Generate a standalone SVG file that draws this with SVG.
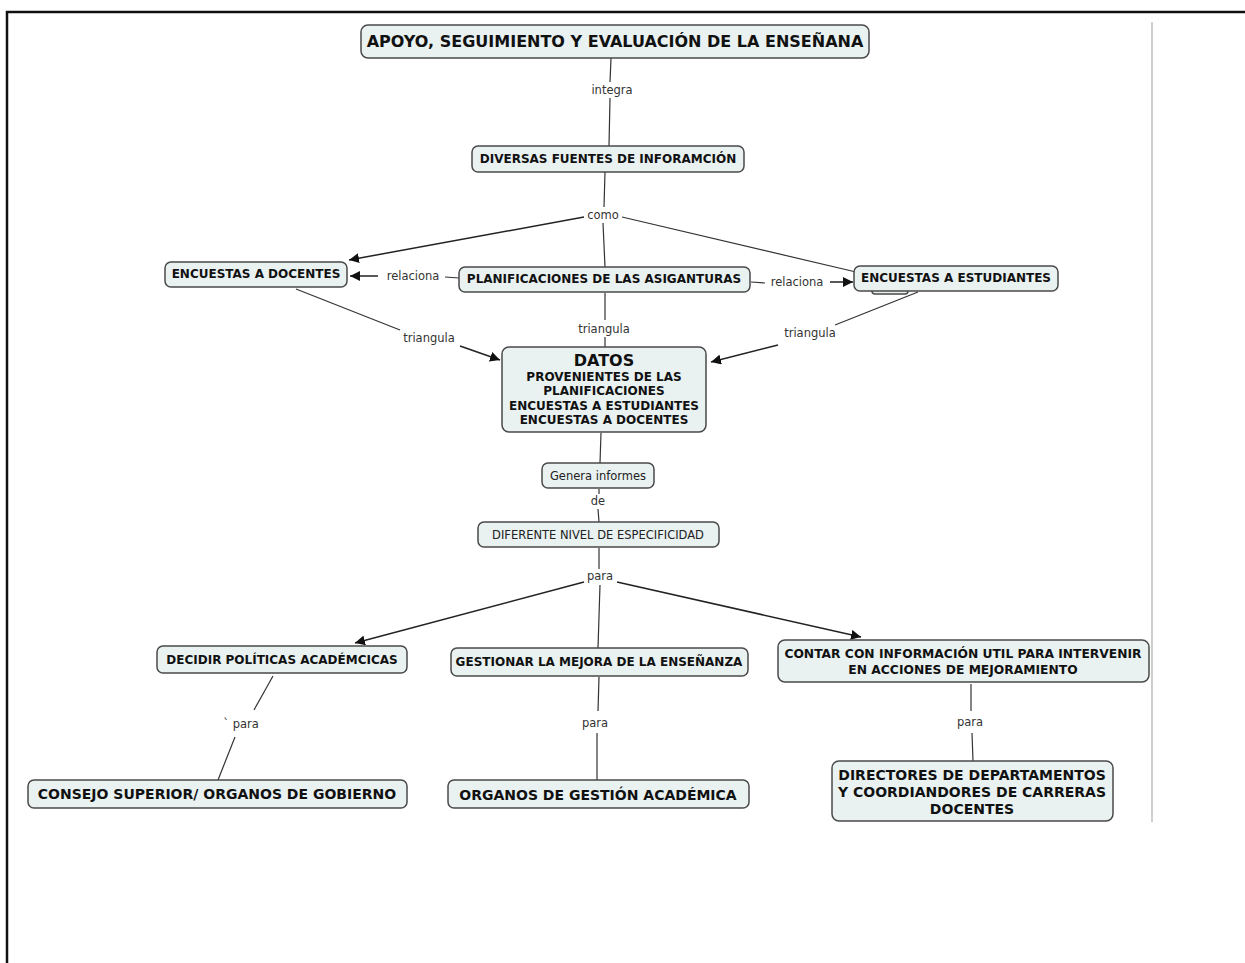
<svg xmlns="http://www.w3.org/2000/svg" width="1245" height="963" viewBox="0 0 1245 963">
<defs>
<marker id="ah" viewBox="0 0 10 10" refX="10" refY="5" markerWidth="10" markerHeight="10" markerUnits="userSpaceOnUse" orient="auto">
<path d="M0,0 L10,5 L0,10 z" fill="#111"/>
</marker>
<style>
.n{fill:#e9f1f1;stroke:#4a4a4a;stroke-width:1.5}
.b{font-family:"DejaVu Sans","Liberation Sans",sans-serif;font-weight:bold;fill:#111;text-anchor:middle}
.r{font-family:"DejaVu Sans","Liberation Sans",sans-serif;fill:#222;text-anchor:middle}
.l{font-family:"DejaVu Sans","Liberation Sans",sans-serif;font-size:11.5px;fill:#333;text-anchor:middle}
.c{stroke:#333;stroke-width:1.2;fill:none}
.a{stroke:#222;stroke-width:1.5;fill:none;marker-end:url(#ah)}
</style>
</defs>
<rect width="1245" height="963" fill="#fff"/>
<path d="M7,963 V12 H1245" fill="none" stroke="#111" stroke-width="2.5"/>
<line x1="1152" y1="22" x2="1152" y2="822" stroke="#a8b0a8" stroke-width="1.2"/>

<g id="connectors">
<line class="c" x1="611" y1="58" x2="610" y2="82"/>
<line class="c" x1="610" y1="98" x2="609" y2="146"/>
<text class="l" x="612" y="94">integra</text>

<line class="c" x1="605" y1="172" x2="604" y2="207"/>
<text class="l" x="603" y="219">como</text>
<line class="a" x1="584" y1="217" x2="349" y2="260"/>
<line class="c" x1="622" y1="217" x2="856" y2="272"/>
<line class="c" x1="603" y1="223" x2="605" y2="267"/>

<line class="a" x1="378" y1="276" x2="350" y2="276"/>
<text class="l" x="413" y="280">relaciona</text>
<line class="c" x1="445" y1="277" x2="459" y2="278"/>

<line class="c" x1="751" y1="282" x2="765" y2="283"/>
<text class="l" x="797" y="286">relaciona</text>
<line class="a" x1="830" y1="282" x2="853" y2="282"/>

<line class="c" x1="296" y1="289" x2="400" y2="330"/>
<text class="l" x="429" y="342">triangula</text>
<line class="a" x1="460" y1="346" x2="500" y2="360"/>

<line class="c" x1="605" y1="293" x2="605" y2="320"/>
<text class="l" x="604" y="333">triangula</text>
<line class="c" x1="605" y1="337" x2="605" y2="347"/>

<line class="c" x1="918" y1="292" x2="835" y2="325"/>
<text class="l" x="810" y="337">triangula</text>
<line class="a" x1="778" y1="345" x2="711" y2="362"/>

<line class="c" x1="601" y1="433" x2="600" y2="463"/>
<line class="c" x1="599" y1="489" x2="599" y2="494"/>
<text class="l" x="598" y="505">de</text>
<line class="c" x1="598" y1="509" x2="599" y2="522"/>

<line class="c" x1="599" y1="548" x2="599" y2="569"/>
<text class="l" x="600" y="580">para</text>
<line class="a" x1="584" y1="582" x2="355" y2="643"/>
<line class="a" x1="617" y1="582" x2="861" y2="637"/>
<line class="c" x1="600" y1="585" x2="598" y2="648"/>

<line class="c" x1="273" y1="676" x2="254" y2="710"/>
<text class="l" x="241" y="728">` para</text>
<line class="c" x1="235" y1="737" x2="218" y2="780"/>

<line class="c" x1="599" y1="677" x2="598" y2="711"/>
<text class="l" x="595" y="727">para</text>
<line class="c" x1="597" y1="733" x2="597" y2="780"/>

<line class="c" x1="971" y1="684" x2="971" y2="711"/>
<text class="l" x="970" y="726">para</text>
<line class="c" x1="972" y1="733" x2="973" y2="761"/>
</g>

<g id="n-apoyo">
<rect class="n" x="361" y="25" width="508" height="33" rx="7"/>
<text class="b" x="615" y="47" font-size="16">APOYO, SEGUIMIENTO Y EVALUACIÓN DE LA ENSEÑANA</text>
</g>
<g id="n-diversas">
<rect class="n" x="472" y="146" width="272" height="26" rx="6"/>
<text class="b" x="608" y="163" font-size="12">DIVERSAS FUENTES DE INFORAMCIÓN</text>
</g>
<g id="n-docentes">
<rect class="n" x="165" y="262" width="182" height="25" rx="6"/>
<text class="b" x="256" y="278" font-size="12">ENCUESTAS A DOCENTES</text>
</g>
<g id="n-planif">
<rect class="n" x="459" y="267" width="291" height="25" rx="6"/>
<text class="b" x="604" y="283" font-size="12">PLANIFICACIONES DE LAS ASIGANTURAS</text>
</g>
<g id="n-estudiantes">
<rect class="n" x="872" y="284" width="36" height="10" rx="3"/>
<rect class="n" x="854" y="266" width="204" height="25" rx="6"/>
<text class="b" x="956" y="282" font-size="12">ENCUESTAS A ESTUDIANTES</text>
</g>
<g id="n-datos">
<rect class="n" x="502" y="347" width="204" height="85" rx="7"/>
<text class="b" x="604" y="366" font-size="16">DATOS</text>
<text class="b" x="604" y="381" font-size="12">PROVENIENTES DE LAS</text>
<text class="b" x="604" y="395" font-size="12">PLANIFICACIONES</text>
<text class="b" x="604" y="410" font-size="12">ENCUESTAS A ESTUDIANTES</text>
<text class="b" x="604" y="424" font-size="12">ENCUESTAS A DOCENTES</text>
</g>
<g id="n-genera">
<rect class="n" x="542" y="463" width="112" height="25" rx="6"/>
<text class="r" x="598" y="480" font-size="11.5">Genera informes</text>
</g>
<g id="n-diferente">
<rect class="n" x="478" y="522" width="241" height="25" rx="6"/>
<text class="r" x="598" y="539" font-size="11.5">DIFERENTE NIVEL DE ESPECIFICIDAD</text>
</g>
<g id="n-decidir">
<rect class="n" x="157" y="646" width="250" height="27" rx="6"/>
<text class="b" x="282" y="664" font-size="12">DECIDIR POLÍTICAS ACADÉMCICAS</text>
</g>
<g id="n-gestionar">
<rect class="n" x="451" y="648" width="297" height="28" rx="6"/>
<text class="b" x="599" y="666" font-size="12">GESTIONAR LA MEJORA DE LA ENSEÑANZA</text>
</g>
<g id="n-contar">
<rect class="n" x="778" y="640" width="371" height="42" rx="7"/>
<text class="b" x="963" y="658" font-size="12.3">CONTAR CON INFORMACIÓN UTIL PARA INTERVENIR</text>
<text class="b" x="963" y="674" font-size="12.3">EN ACCIONES DE MEJORAMIENTO</text>
</g>
<g id="n-consejo">
<rect class="n" x="28" y="780" width="379" height="28" rx="6"/>
<text class="b" x="217" y="799" font-size="14">CONSEJO SUPERIOR/ ORGANOS DE GOBIERNO</text>
</g>
<g id="n-organos">
<rect class="n" x="448" y="780" width="301" height="28" rx="6"/>
<text class="b" x="598" y="800" font-size="14">ORGANOS DE GESTIÓN ACADÉMICA</text>
</g>
<g id="n-directores">
<rect class="n" x="832" y="761" width="281" height="60" rx="7"/>
<text class="b" x="972" y="780" font-size="14">DIRECTORES DE DEPARTAMENTOS</text>
<text class="b" x="972" y="797" font-size="14">Y COORDIANDORES DE CARRERAS</text>
<text class="b" x="972" y="814" font-size="14">DOCENTES</text>
</g>
</svg>
